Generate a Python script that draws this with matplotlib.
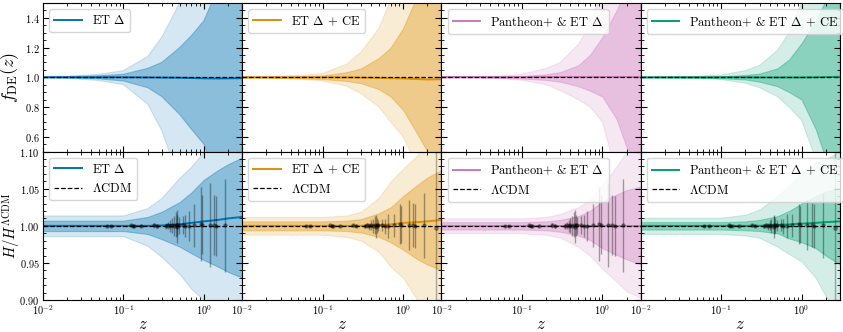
import matplotlib

matplotlib.use("Agg")
import matplotlib.pyplot as plt
from matplotlib.ticker import LogLocator, MultipleLocator, NullFormatter

plt.rcParams["font.family"] = "serif"
plt.rcParams["font.serif"] = ["cmr10"]
plt.rcParams["mathtext.fontset"] = "cm"
plt.rcParams["axes.formatter.use_mathtext"] = True

LABELS = [r"ET $\Delta$", r"ET $\Delta$ + CE",
          r"Pantheon+ & ET $\Delta$", r"Pantheon+ & ET $\Delta$ + CE"]
COLORS = ["#0173B2", "#DE8F05", "#CC78BC", "#029E73"]

Z_NODES = [0.01, 0.02, 0.05, 0.1, 0.2, 0.3, 0.5, 0.7, 1.0, 1.5, 2.0, 3.0]

# f_DE(z): deviations from 1 (light = 2 sigma, dark = 1 sigma), one row per column
FDE_LIGHT_UP = [
    [0.005, 0.008, 0.02, 0.045, 0.14, 0.27, 0.5, 0.8, 1.2, 1.8, 2.4, 3.0],
    [0.004, 0.006, 0.012, 0.025, 0.09, 0.17, 0.33, 0.52, 0.9, 1.5, 2.0, 2.6],
    [0.002, 0.003, 0.008, 0.02, 0.06, 0.10, 0.22, 0.35, 0.6, 1.0, 1.4, 2.0],
    [0.002, 0.003, 0.007, 0.015, 0.045, 0.08, 0.18, 0.3, 0.5, 0.9, 1.2, 1.8],
]
FDE_LIGHT_LO = [
    [0.005, 0.008, 0.022, 0.05, 0.18, 0.36, 0.7, 1.0, 1.3, 1.8, 2.4, 3.0],
    [0.004, 0.006, 0.012, 0.025, 0.06, 0.11, 0.2, 0.3, 0.4, 0.6, 0.8, 1.2],
    [0.002, 0.003, 0.008, 0.02, 0.05, 0.09, 0.15, 0.2, 0.3, 0.65, 0.9, 1.3],
    [0.002, 0.003, 0.007, 0.015, 0.04, 0.07, 0.13, 0.2, 0.29, 0.55, 0.8, 1.2],
]
FDE_DARK_UP = [
    [0.002, 0.004, 0.01, 0.02, 0.06, 0.10, 0.2, 0.28, 0.38, 0.6, 0.9, 1.3],
    [0.002, 0.003, 0.006, 0.012, 0.035, 0.06, 0.13, 0.2, 0.33, 0.55, 0.8, 1.2],
    [0.001, 0.002, 0.004, 0.008, 0.02, 0.035, 0.08, 0.15, 0.27, 0.45, 0.6, 0.9],
    [0.001, 0.002, 0.003, 0.006, 0.015, 0.025, 0.06, 0.12, 0.23, 0.38, 0.52, 0.8],
]
FDE_DARK_LO = [
    [0.002, 0.004, 0.011, 0.025, 0.07, 0.13, 0.25, 0.35, 0.45, 0.7, 1.0, 1.4],
    [0.002, 0.003, 0.006, 0.012, 0.025, 0.04, 0.08, 0.13, 0.22, 0.38, 0.5, 0.7],
    [0.001, 0.002, 0.004, 0.008, 0.018, 0.03, 0.06, 0.09, 0.13, 0.28, 0.47, 0.6],
    [0.001, 0.002, 0.003, 0.006, 0.015, 0.03, 0.06, 0.1, 0.15, 0.35, 0.55, 0.8],
]
FDE_MEAN = [
    [1.0, 1.0, 1.0, 1.0, 0.999, 0.998, 0.997, 0.995, 0.993, 0.992, 0.993, 0.994],
    [1.0, 1.0, 1.0, 1.0, 0.999, 0.998, 0.996, 0.994, 0.992, 0.988, 0.985, 0.987],
    [1.0, 1.0, 1.0, 1.0, 1.0, 1.0, 1.0, 1.0, 1.0, 1.0, 1.0, 1.0],
    [1.0, 1.0, 1.0, 1.0, 1.0, 0.999, 0.999, 0.999, 0.999, 1.0, 1.001, 1.003],
]

# H / H_LCDM: deviations from 1
H_LIGHT_UP = [
    [0.014, 0.014, 0.014, 0.014, 0.024, 0.038, 0.065, 0.08, 0.10, 0.13, 0.16, 0.2],
    [0.012, 0.012, 0.012, 0.012, 0.014, 0.019, 0.038, 0.06, 0.077, 0.095, 0.12, 0.15],
    [0.010, 0.010, 0.010, 0.010, 0.012, 0.016, 0.025, 0.035, 0.055, 0.08, 0.1, 0.12],
    [0.011, 0.011, 0.011, 0.011, 0.015, 0.022, 0.040, 0.055, 0.072, 0.085, 0.09, 0.10],
]
H_LIGHT_LO = [
    [0.014, 0.014, 0.014, 0.014, 0.027, 0.042, 0.065, 0.085, 0.10, 0.13, 0.16, 0.2],
    [0.012, 0.012, 0.012, 0.012, 0.015, 0.02, 0.035, 0.055, 0.07, 0.10, 0.13, 0.16],
    [0.010, 0.010, 0.010, 0.010, 0.012, 0.016, 0.028, 0.04, 0.058, 0.075, 0.088, 0.097],
    [0.011, 0.011, 0.011, 0.011, 0.013, 0.016, 0.028, 0.038, 0.048, 0.07, 0.095, 0.12],
]
H_DARK_UP = [
    [0.007, 0.007, 0.007, 0.007, 0.012, 0.019, 0.032, 0.045, 0.062, 0.075, 0.083, 0.092],
    [0.006, 0.006, 0.006, 0.006, 0.007, 0.009, 0.017, 0.025, 0.04, 0.055, 0.065, 0.075],
    [0.005, 0.005, 0.005, 0.005, 0.006, 0.008, 0.013, 0.02, 0.033, 0.042, 0.048, 0.053],
    [0.005, 0.005, 0.005, 0.005, 0.006, 0.008, 0.013, 0.02, 0.03, 0.04, 0.046, 0.052],
]
H_DARK_LO = [
    [0.007, 0.007, 0.007, 0.007, 0.011, 0.018, 0.028, 0.037, 0.046, 0.055, 0.062, 0.07],
    [0.006, 0.006, 0.006, 0.006, 0.007, 0.009, 0.015, 0.022, 0.032, 0.045, 0.052, 0.06],
    [0.005, 0.005, 0.005, 0.005, 0.006, 0.008, 0.013, 0.019, 0.03, 0.039, 0.045, 0.052],
    [0.005, 0.005, 0.005, 0.005, 0.006, 0.007, 0.01, 0.017, 0.022, 0.03, 0.04, 0.052],
]
H_MEAN = [
    [1.0, 1.0, 1.0, 1.0, 1.0, 1.0005, 1.002, 1.004, 1.006, 1.008, 1.010, 1.012],
    [1.0, 1.0, 1.0, 1.0, 1.0, 1.0, 1.001, 1.002, 1.004, 1.005, 1.006, 1.008],
    [1.0, 1.0, 1.0, 1.0, 1.0, 1.0, 1.0, 1.0, 1.0, 1.0, 1.0, 1.0],
    [1.0, 1.0, 1.0, 1.0, 1.0, 1.0, 1.001, 1.002, 1.003, 1.004, 1.005, 1.006],
]

# mock GW H(z) points
GW_Z = [0.062, 0.070, 0.124, 0.130, 0.135, 0.165, 0.24, 0.26, 0.34, 0.36, 0.38, 0.40,
        0.42, 0.45, 0.46, 0.47, 0.49, 0.55, 0.59, 0.65, 0.76, 0.92, 0.95, 1.18, 1.33,
        1.42, 1.83]
GW_VAL = [1.0, 1.0, 1.0005, 0.9995, 1.0, 1.0, 1.0005, 1.0, 1.0, 1.0005, 0.9995, 1.001,
          1.0, 1.0015, 0.999, 1.001, 1.0005, 1.001, 0.9995, 1.0, 1.0005, 1.002, 1.0015,
          1.001, 1.001, 1.0, 1.0005]
GW_ERR_ET = [0.001, 0.001, 0.0015, 0.0015, 0.0015, 0.002, 0.003, 0.003, 0.004, 0.005,
             0.008, 0.010, 0.013, 0.017, 0.022, 0.014, 0.012, 0.012, 0.015, 0.02, 0.029,
             0.05, 0.04, 0.057, 0.04, 0.04, 0.062]
GW_ERR_CE = [0.001, 0.001, 0.001, 0.001, 0.001, 0.0015, 0.002, 0.002, 0.003, 0.003,
             0.005, 0.007, 0.009, 0.012, 0.015, 0.01, 0.008, 0.008, 0.01, 0.016, 0.016,
             0.027, 0.025, 0.034, 0.03, 0.03, 0.044]
FAR_Z = [2.6]
FAR_VAL = [0.997]
FAR_ERR = [0.2]
USES_CE = [False, True, False, True]


def style_axis(ax, ylim, major, minor):
    ax.set_xscale("log")
    ax.set_xlim(0.01, 3.0)
    ax.set_ylim(*ylim)
    ax.yaxis.set_major_locator(MultipleLocator(major))
    ax.yaxis.set_minor_locator(MultipleLocator(minor))
    ax.xaxis.set_major_locator(LogLocator(base=10, numticks=10))
    ax.xaxis.set_minor_locator(LogLocator(base=10, subs=range(2, 10), numticks=10))
    ax.tick_params(which="both", direction="in", top=True, right=True,
                   labelsize=7.5, pad=2.5)
    ax.tick_params(which="major", length=4)
    ax.tick_params(which="minor", length=2)


def draw_bands(ax, color, label, mean, lu, ll, du, dl):
    ax.fill_between(Z_NODES, [1 - v for v in ll], [1 + v for v in lu],
                    color=color, alpha=0.17, lw=0.8, edgecolor=color)
    ax.fill_between(Z_NODES, [1 - v for v in dl], [1 + v for v in du],
                    color=color, alpha=0.35, lw=0.8, edgecolor=color)
    ax.plot(Z_NODES, mean, color=color, lw=1.4, label=label)


fig, axes = plt.subplots(2, 4, figsize=(8.43, 3.32), dpi=100)
fig.subplots_adjust(left=0.051, right=0.9964, top=0.991, bottom=0.096,
                    wspace=0, hspace=0)

for i in range(4):
    color = COLORS[i]

    ax = axes[0, i]
    draw_bands(ax, color, LABELS[i], FDE_MEAN[i], FDE_LIGHT_UP[i], FDE_LIGHT_LO[i],
               FDE_DARK_UP[i], FDE_DARK_LO[i])
    ax.axhline(1.0, color="black", ls="--", lw=0.9)
    style_axis(ax, (0.5, 1.5), 0.2, 0.05)
    ax.xaxis.set_major_formatter(NullFormatter())
    ax.legend(loc="upper left", fontsize=9, handlelength=2.2, framealpha=0.8)

    ax = axes[1, i]
    draw_bands(ax, color, LABELS[i], H_MEAN[i], H_LIGHT_UP[i], H_LIGHT_LO[i],
               H_DARK_UP[i], H_DARK_LO[i])
    err = GW_ERR_CE if USES_CE[i] else GW_ERR_ET
    ax.errorbar(GW_Z, GW_VAL, yerr=err, fmt="o", ms=2.2, color="black", alpha=0.35,
                elinewidth=1.0, capsize=0, zorder=4)
    if USES_CE[i]:
        ax.errorbar(FAR_Z, FAR_VAL, yerr=FAR_ERR, fmt="o", ms=2.5, color="black",
                    alpha=0.3, elinewidth=1.0, capsize=0, zorder=4)
    ax.axhline(1.0, color="black", ls="--", lw=0.9, zorder=5, label=r"$\Lambda$CDM")
    style_axis(ax, (0.9, 1.1), 0.05, 0.01)
    ax.set_xlabel(r"$z$", fontsize=12)
    ax.xaxis.set_label_coords(0.5, -0.11)
    ax.legend(loc="upper left", fontsize=9, handlelength=2.2, framealpha=0.8)

    if i > 0:
        axes[0, i].yaxis.set_major_formatter(NullFormatter())
        axes[1, i].yaxis.set_major_formatter(NullFormatter())

axes[0, 0].set_ylabel(r"$f_{\rm DE}(z)$", fontsize=13)
axes[0, 0].yaxis.set_label_coords(-0.11, 0.5)
axes[1, 0].set_ylabel(r"$H/H^{\Lambda{\rm CDM}}$", fontsize=10.5)
axes[1, 0].yaxis.set_label_coords(-0.105, 0.5)

fig.savefig("out.png", dpi=100)
